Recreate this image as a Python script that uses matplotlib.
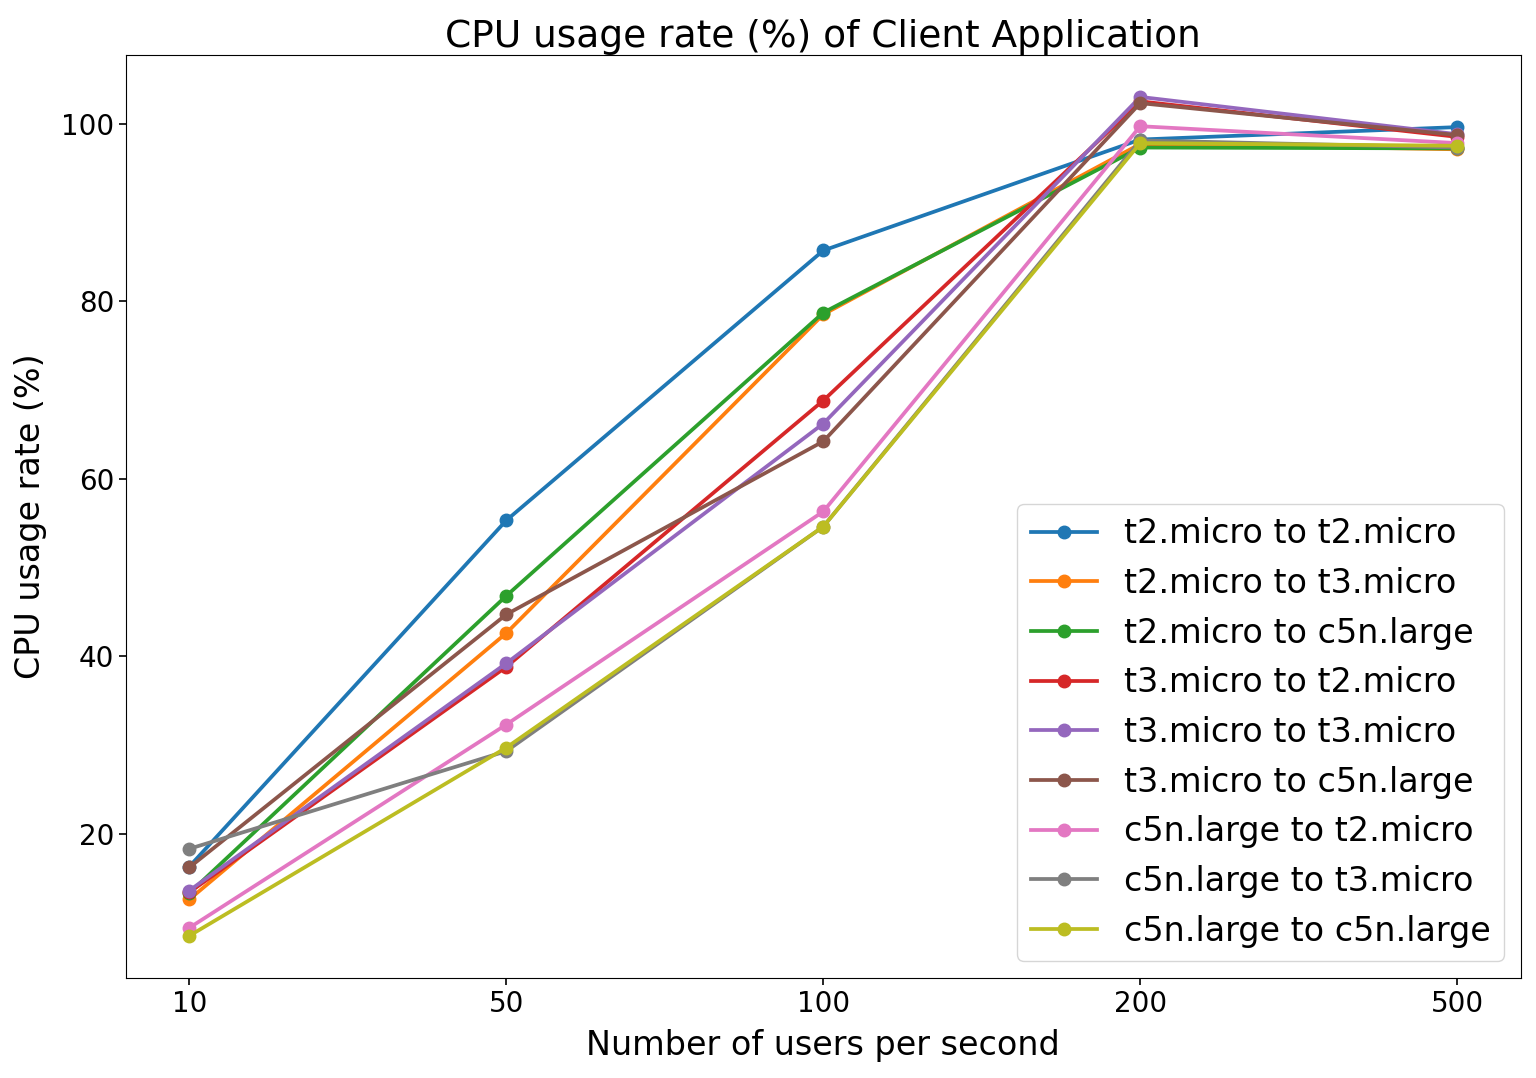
import matplotlib.pyplot as plt

users = ['10', '50', '100', '200', '500']

series_names = [
    't2.micro to t2.micro',
    't2.micro to t3.micro',
    't2.micro to c5n.large',
    't3.micro to t2.micro',
    't3.micro to t3.micro',
    't3.micro to c5n.large',
    'c5n.large to t2.micro',
    'c5n.large to t3.micro',
    'c5n.large to c5n.large',
]

t2_t2 = [16.3, 55.3, 85.7, 98.2, 99.6]
t2_t3 = [12.6, 42.6, 78.5, 97.7, 97.1]
t2_c5n = [13.3, 46.8, 78.7, 97.3, 97.2]
t3_t2 = [13.4, 38.8, 68.8, 102.5, 98.5]
t3_t3 = [13.6, 39.2, 66.2, 103.0, 98.8]
t3_c5n = [16.2, 44.7, 64.2, 102.3, 98.7]
c5n_t2 = [9.4, 32.3, 56.3, 99.7, 97.8]
c5n_t3 = [18.3, 29.3, 54.6, 98.1, 97.3]
c5n_c5n = [8.5, 29.7, 54.6, 97.8, 97.5]

all_series = [t2_t2, t2_t3, t2_c5n, t3_t2, t3_t3, t3_c5n, c5n_t2, c5n_t3, c5n_c5n]

fig, ax = plt.subplots(figsize=(15.36, 10.78), dpi=100)
fig.subplots_adjust(left=0.082, right=0.99, top=0.949, bottom=0.093)

x = range(len(users))
for name, vals in zip(series_names, all_series):
    ax.plot(x, vals, marker='o', linewidth=2.7, markersize=9, label=name)

ax.set_xticks(list(x))
ax.set_xticklabels(users)
ax.tick_params(labelsize=20, length=5, width=1.2)
ax.set_xlabel('Number of users per second', fontsize=24, labelpad=8)
ax.set_ylabel('CPU usage rate (%)', fontsize=24, labelpad=10)
ax.set_title('CPU usage rate (%) of Client Application', fontsize=27)
ax.legend(loc='lower right', fontsize=24)

fig.savefig('out.png')
